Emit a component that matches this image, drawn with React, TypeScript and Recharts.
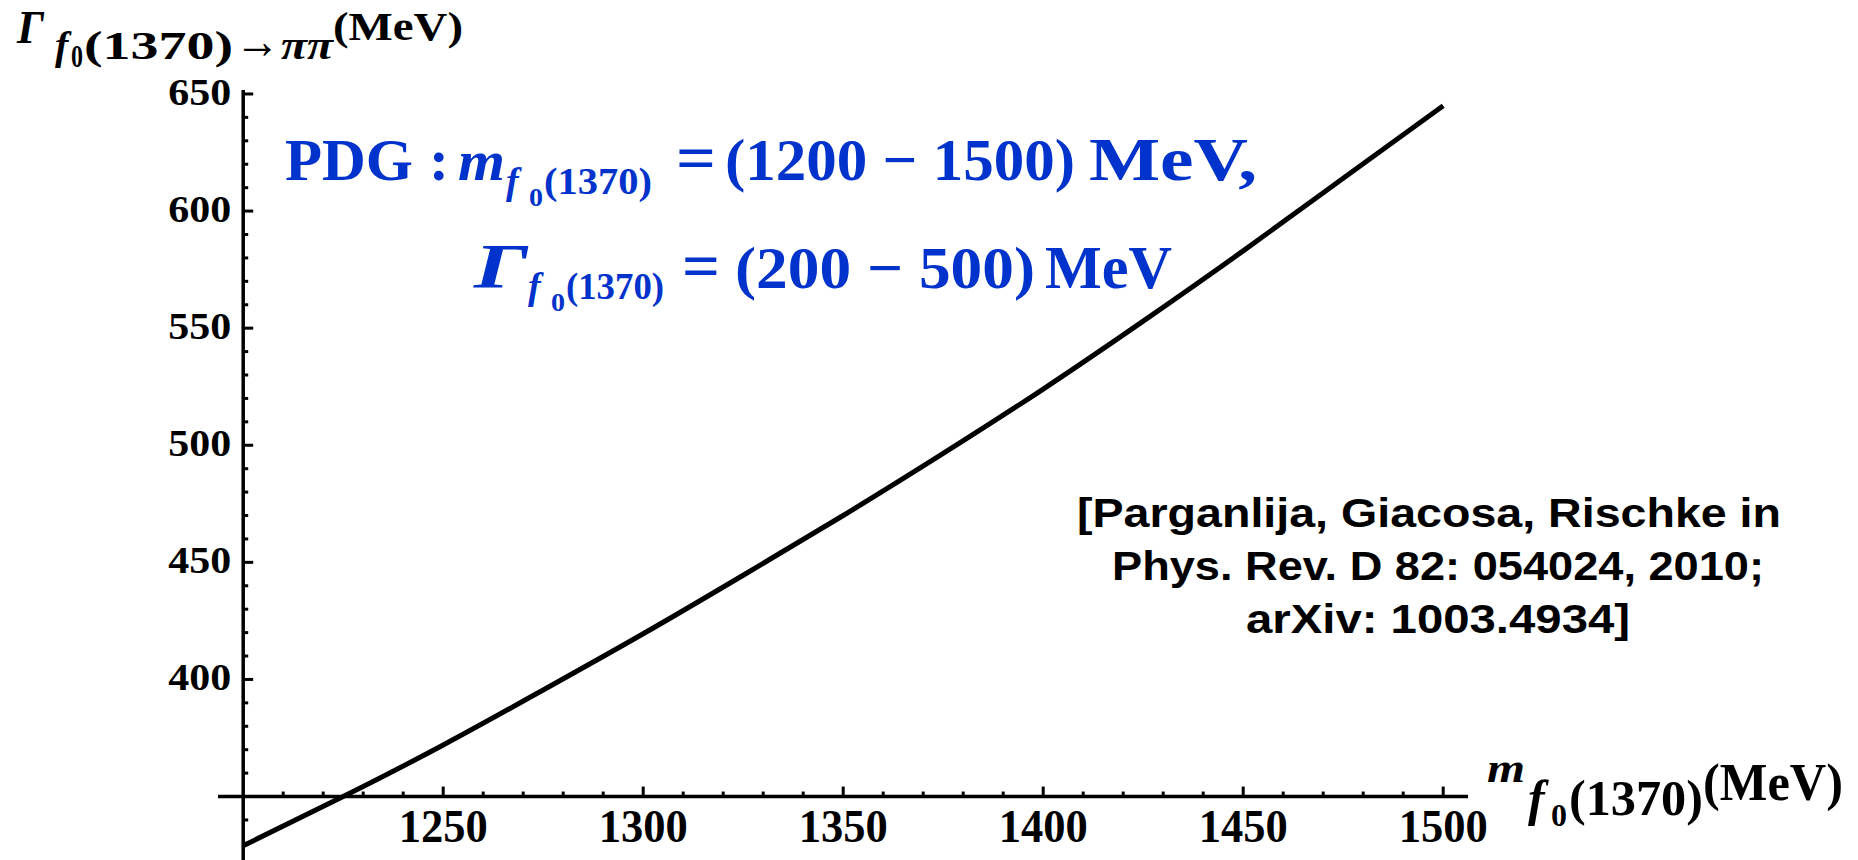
import { LineChart, Line, XAxis, YAxis, ReferenceLine, ReferenceDot } from "recharts";

// f0(1370) -> pi pi decay width vs. f0(1370) mass, both in MeV
const massMeV = [1200, 1225, 1250, 1275, 1300, 1325, 1350, 1375, 1400, 1425, 1450, 1475, 1500];
const widthMeV = [329, 350, 372, 395.5, 419.5, 444.5, 470, 496.5, 524, 553, 583, 614, 645];

const xMajorTicks = [1250, 1300, 1350, 1400, 1450, 1500];
const yMajorTicks = [400, 450, 500, 550, 600, 650];
const xMinorTicks = [
  1210, 1220, 1230, 1240, 1260, 1270, 1280, 1290, 1310, 1320, 1330, 1340, 1360, 1370, 1380, 1390,
  1410, 1420, 1430, 1440, 1460, 1470, 1480, 1490,
];
const yMinorTicks = [
  330, 340, 360, 370, 380, 390, 410, 420, 430, 440, 460, 470, 480, 490, 510, 520, 530, 540, 560, 570,
  580, 590, 610, 620, 630, 640,
];

const rows = massMeV.map((m, i) => ({ m, gamma: widthMeV[i] }));

const SERIF = "'Liberation Serif', 'Times New Roman', serif";
const SANS = "'Liberation Sans', Arial, sans-serif";
const BLUE = "#0033cc";

const AXIS_X = 350; // y value where the horizontal axis sits
const AXIS_Y = 1200; // x value where the vertical axis sits

const xTickShape = (major: boolean, label?: number) => (p: any) => (
  <g>
    <line x1={p.cx} y1={p.cy} x2={p.cx} y2={p.cy - (major ? 10 : 5)} stroke="#000" strokeWidth={3} />
    {label !== undefined && (
      <text
        x={p.cx}
        y={p.cy + 45}
        textAnchor="middle"
        fontFamily={SERIF}
        fontWeight="bold"
        fontSize={46}
        textLength={89}
        lengthAdjust="spacingAndGlyphs"
        fill="#000"
      >
        {label}
      </text>
    )}
  </g>
);

const yTickShape = (major: boolean, label?: number) => (p: any) => (
  <g>
    <line x1={p.cx} y1={p.cy} x2={p.cx + (major ? 10 : 5)} y2={p.cy} stroke="#000" strokeWidth={3} />
    {label !== undefined && (
      <text
        x={p.cx - 12}
        y={p.cy + 11}
        textAnchor="end"
        fontFamily={SERIF}
        fontWeight="bold"
        fontSize={38}
        textLength={63}
        lengthAdjust="spacingAndGlyphs"
        fill="#000"
      >
        {label}
      </text>
    )}
  </g>
);

const Labels = () => (
  <svg
    width={1858}
    height={860}
    style={{ position: "absolute", left: 0, top: 0, pointerEvents: "none" }}
  >
    {/* vertical axis title */}
    <g fontFamily={SERIF} fontWeight="bold" fill="#000">
      <text x={17} y={43} fontSize={46} fontStyle="italic" textLength={27} lengthAdjust="spacingAndGlyphs">Γ</text>
      <text x={55} y={59} fontSize={40} fontStyle="italic">f</text>
      <text x={71} y={67} fontSize={32} textLength={12} lengthAdjust="spacingAndGlyphs">0</text>
      <text x={84} y={59} fontSize={40} textLength={149} lengthAdjust="spacingAndGlyphs">(1370)</text>
      <text x={235} y={58} fontSize={50} textLength={45} lengthAdjust="spacingAndGlyphs">→</text>
      <text x={281} y={59} fontSize={40} fontStyle="italic" textLength={52} lengthAdjust="spacingAndGlyphs">ππ</text>
      <text x={333} y={40} fontSize={41} textLength={130} lengthAdjust="spacingAndGlyphs">(MeV)</text>
    </g>

    {/* horizontal axis title */}
    <g fontFamily={SERIF} fontWeight="bold" fill="#000">
      <text x={1487} y={782} fontSize={40} fontStyle="italic" textLength={38} lengthAdjust="spacingAndGlyphs">m</text>
      <text x={1528} y={815} fontSize={50} fontStyle="italic">f</text>
      <text x={1551} y={826} fontSize={32} textLength={16} lengthAdjust="spacingAndGlyphs">0</text>
      <text x={1569} y={815} fontSize={50} textLength={134} lengthAdjust="spacingAndGlyphs">(1370)</text>
      <text x={1703} y={800} fontSize={52} textLength={140} lengthAdjust="spacingAndGlyphs">(MeV)</text>
    </g>

    {/* PDG ranges */}
    <g fontFamily={SERIF} fontWeight="bold" fill={BLUE}>
      <text x={285} y={180} fontSize={60} textLength={128} lengthAdjust="spacingAndGlyphs">PDG</text>
      <text x={429} y={180} fontSize={60}>:</text>
      <text x={458} y={180} fontSize={58} fontStyle="italic" textLength={47} lengthAdjust="spacingAndGlyphs">m</text>
      <text x={506} y={194} fontSize={38} fontStyle="italic">f</text>
      <text x={529} y={206} fontSize={26} textLength={14} lengthAdjust="spacingAndGlyphs">0</text>
      <text x={544} y={194} fontSize={38} textLength={108} lengthAdjust="spacingAndGlyphs">(1370)</text>
      <text x={676} y={180} fontSize={66} textLength={40} lengthAdjust="spacingAndGlyphs">=</text>
      <text x={725} y={180} fontSize={60} textLength={350} lengthAdjust="spacingAndGlyphs">(1200 − 1500)</text>
      <text x={1089} y={180} fontSize={62} textLength={168} lengthAdjust="spacingAndGlyphs">MeV,</text>

      <text x={474} y={288} fontSize={64} fontStyle="italic" textLength={54} lengthAdjust="spacingAndGlyphs">Γ</text>
      <text x={528} y={299} fontSize={38} fontStyle="italic">f</text>
      <text x={551} y={311} fontSize={26} textLength={14} lengthAdjust="spacingAndGlyphs">0</text>
      <text x={566} y={299} fontSize={38} textLength={98} lengthAdjust="spacingAndGlyphs">(1370)</text>
      <text x={682} y={288} fontSize={66} textLength={38} lengthAdjust="spacingAndGlyphs">=</text>
      <text x={735} y={288} fontSize={60} textLength={300} lengthAdjust="spacingAndGlyphs">(200 − 500)</text>
      <text x={1045} y={288} fontSize={62} textLength={127} lengthAdjust="spacingAndGlyphs">MeV</text>
    </g>

    {/* reference */}
    <g fontFamily={SANS} fontWeight="bold" fill="#000" fontSize={40}>
      <text x={1077} y={527} textLength={704} lengthAdjust="spacingAndGlyphs">[Parganlija, Giacosa, Rischke in</text>
      <text x={1112} y={580} textLength={652} lengthAdjust="spacingAndGlyphs">Phys. Rev. D 82: 054024, 2010;</text>
      <text x={1246} y={633} textLength={384} lengthAdjust="spacingAndGlyphs">arXiv: 1003.4934]</text>
    </g>
  </svg>
);

export default function App() {
  return (
    <div style={{ position: "absolute", left: 0, top: 0, width: 1858, height: 860, background: "#fff" }}>
      <LineChart
        width={1858}
        height={860}
        data={rows}
        margin={{ top: 90, right: 390, bottom: 0, left: 218 }}
      >
        <XAxis type="number" dataKey="m" domain={[1193.7, 1506.2]} hide />
        <YAxis type="number" domain={[322.9, 651.7]} hide />
        <ReferenceLine y={AXIS_X} stroke="#000" strokeWidth={3.5} />
        <ReferenceLine x={AXIS_Y} stroke="#000" strokeWidth={3.5} />
        {xMinorTicks.map((t) => (
          <ReferenceDot key={`xm${t}`} x={t} y={AXIS_X} r={0} shape={xTickShape(false)} />
        ))}
        {xMajorTicks.map((t) => (
          <ReferenceDot key={`xM${t}`} x={t} y={AXIS_X} r={0} shape={xTickShape(true, t)} />
        ))}
        {yMinorTicks.map((t) => (
          <ReferenceDot key={`ym${t}`} x={AXIS_Y} y={t} r={0} shape={yTickShape(false)} />
        ))}
        {yMajorTicks.map((t) => (
          <ReferenceDot key={`yM${t}`} x={AXIS_Y} y={t} r={0} shape={yTickShape(true, t)} />
        ))}
        <Line
          type="natural"
          dataKey="gamma"
          stroke="#000"
          strokeWidth={5}
          dot={false}
          isAnimationActive={false}
        />
      </LineChart>
      <Labels />
    </div>
  );
}
